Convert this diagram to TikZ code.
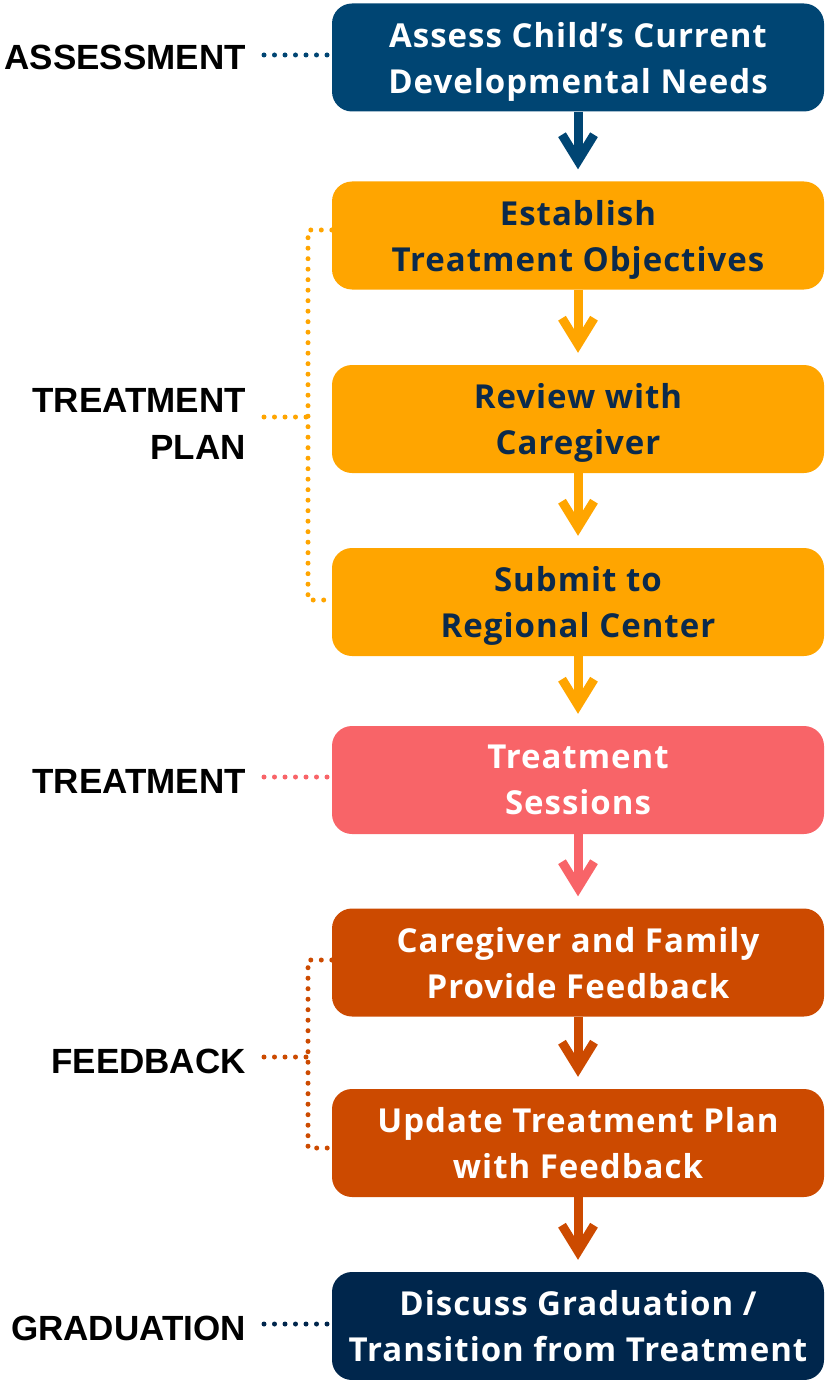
\documentclass[tikz,border=0pt]{standalone}
\usepackage{fontspec}
\setmainfont{Open Sans}[LetterSpace=3]
\newfontfamily\labelfont{Liberation Sans}
\usetikzlibrary{arrows.meta,calc}
\definecolor{cblue}{HTML}{004573}
\definecolor{corange}{HTML}{FFA500}
\definecolor{cpink}{HTML}{F86468}
\definecolor{cdkor}{HTML}{CC4A00}
\definecolor{cnavy}{HTML}{00264C}
\definecolor{ctext}{HTML}{0B2A4C}
\tikzset{
  stepbox/.style={rounded corners=20pt, minimum width=492pt, minimum height=108pt,
    inner sep=0pt, align=center, text depth=0pt, font=\bfseries\fontsize{33}{46}\selectfont},
  phase/.style={anchor=east, align=right, inner sep=0pt,
    font=\labelfont\bfseries\fontsize{35}{47}\selectfont},
  flow/.style={line width=9pt, shorten >=12pt,
    -{Straight Barb[length=26pt, width=32pt, line width=9pt]}},
  dots/.style={line width=5pt, line cap=round, dash pattern=on 0pt off 10.5pt}
}
\begin{document}
\begin{tikzpicture}[x=1pt,y=-1pt]
\useasboundingbox (0,0) rectangle (827,1380);
\node[stepbox, fill=cblue, text=white] (b1) at (578,57.5) {Assess Child’s Current\\Developmental Needs};
\node[stepbox, fill=corange, text=ctext] (b2) at (578,235.5) {Establish\\Treatment Objectives};
\node[stepbox, fill=corange, text=ctext] (b3) at (578,419) {Review with\\Caregiver};
\node[stepbox, fill=corange, text=ctext] (b4) at (578,602) {Submit to\\Regional Center};
\node[stepbox, fill=cpink, text=white] (b5) at (578,780) {Treatment\\Sessions};
\node[stepbox, fill=cdkor, text=white] (b6) at (578,962.5) {Caregiver and Family\\Provide Feedback};
\node[stepbox, fill=cdkor, text=white] (b7) at (578,1143) {Update Treatment Plan\\with Feedback};
\node[stepbox, fill=cnavy, text=white] (b8) at (578,1326) {Discuss Graduation /\\Transition from Treatment};

\draw[flow, cblue] (b1.south) -- (b2.north);
\draw[flow, corange] (b2.south) -- (b3.north);
\draw[flow, corange] (b3.south) -- (b4.north);
\draw[flow, corange] (b4.south) -- (b5.north);
\draw[flow, cpink] (b5.south) -- (b6.north);
\draw[flow, cdkor] (b6.south) -- (b7.north);
\draw[flow, cdkor] (b7.south) -- (b8.north);

% labels
\node[phase] (l1) at (246,57) {ASSESSMENT};
\node[phase] (l2) at (246,424) {TREATMENT\\PLAN};
\node[phase] (l3) at (246,781) {TREATMENT};
\node[phase] (l4) at (246,1061) {FEEDBACK};
\node[phase] (l5) at (246,1328) {GRADUATION};

% connectors
\coordinate (tp) at (308,417);
\coordinate (fb) at (308,1057);
\draw[dots, cblue] (264,55) -- (b1.west |- 0,55);
\draw[dots, corange] (264,417) -- (tp);
\draw[dots, corange] (b2.west |- 0,230) -| (tp) |- (b4.west |- 0,600);
\draw[dots, cpink] (264,777) -- (b5.west |- 0,777);
\draw[dots, cdkor] (264,1057) -- (fb);
\draw[dots, cdkor] (b6.west |- 0,960) -| (fb) |- (b7.west |- 0,1148);
\draw[dots, cnavy] (264,1324) -- (b8.west |- 0,1324);
\end{tikzpicture}
\end{document}
